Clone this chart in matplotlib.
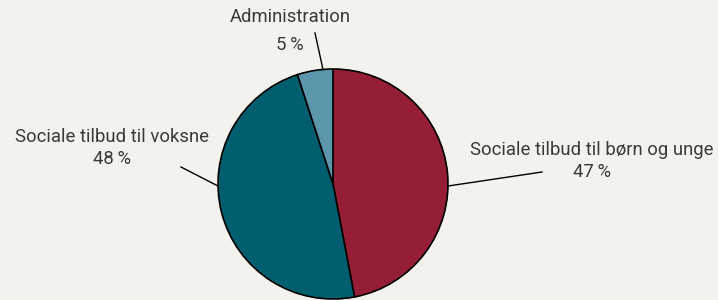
import numpy as np
import matplotlib
matplotlib.use("Agg")
import matplotlib.pyplot as plt

categories = ["Sociale tilbud til børn og unge", "Sociale tilbud til voksne", "Administration"]
values = [47, 48, 5]
colors = ["#961d36", "#005e6e", "#5b96ab"]

BG = "#f3f2ed"
W, H = 718, 300
fig = plt.figure(figsize=(W / 100, H / 100), dpi=100, facecolor=BG)
ax = fig.add_axes([0, 0, 1, 1])
ax.set_facecolor(BG)

cx, cy, r = 333, 300 - 184, 115
wedges, _ = ax.pie(values, colors=colors, startangle=90, counterclock=False,
                   center=(cx, cy), radius=r, frame=True,
                   wedgeprops=dict(edgecolor="black", linewidth=1.2))
ax.set_xlim(0, W)
ax.set_ylim(0, H)
ax.set_aspect("equal")
ax.axis("off")

# label placement: (angle on edge in degrees, text x, text y in pixels from top, line end x, line end y)
label_pos = [
    (-1.0, 592, 150, 542, 172),
    (181.0, 112, 137, 181, 167),
    (95.0, 290, 17, 315, 33),
]
font = dict(family="Roboto", fontsize=13.3, color="#3a3a3a")
for (ang, tx, ty, lx, ly), cat, v in zip(label_pos, categories, values):
    a = np.deg2rad(ang)
    ex, ey = cx + r * np.cos(a), cy + r * np.sin(a)
    ax.plot([ex, lx], [ey, H - ly], color="black", lw=1.0)
    ax.text(tx, H - ty, cat, ha="center", va="center", **font)
    ax.text(tx, H - ty - 22 if cat != "Administration" else H - ty - 28,
            f"{v}\u2009%", ha="center", va="center", **font)

fig.savefig("out.png", dpi=100, facecolor=BG)
